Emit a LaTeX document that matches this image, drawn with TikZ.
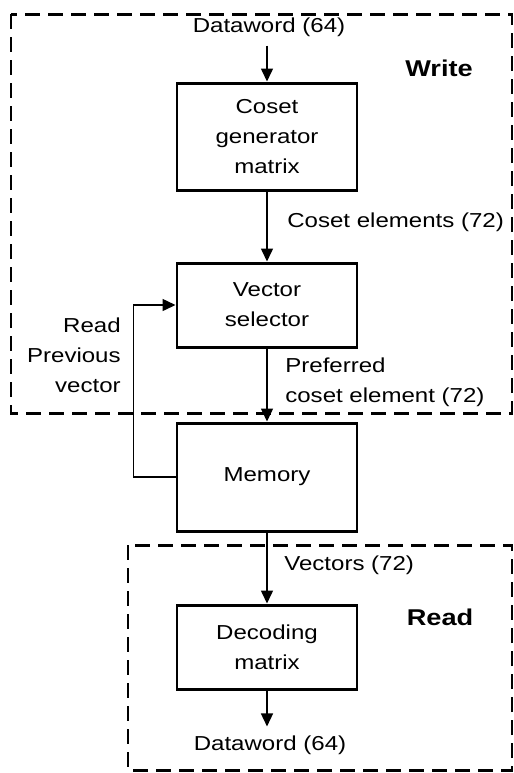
\documentclass[tikz,border=0pt]{standalone}
\usepackage{fontspec}
\setmainfont[FakeStretch=1.19]{Liberation Sans}
\usetikzlibrary{arrows.meta}

\begin{document}
\begin{tikzpicture}[
    font=\fontsize{11.5}{17}\selectfont,
    block/.style={draw, line width=1.7pt, minimum width=3.6cm, align=center},
    lbl/.style={inner sep=0pt, align=left},
    term/.style={inner sep=5pt},
    region/.style={draw, line width=1.7pt, dash pattern=on 0.3cm off 0.16cm},
    flow/.style={draw, line width=0.85pt, -{Triangle[length=0.26cm,width=0.24cm]}},
    title/.style={font=\fontsize{13}{16}\selectfont\bfseries}]
\useasboundingbox (0,0) rectangle (10.28,-15.46);

\path[region] (0.22,-0.28) rectangle (10.24,-8.26);
\path[region] (2.56,-10.90) rectangle (10.24,-15.40);

\node[term] (din) at (5.38,-0.54) {Dataword (64)};
\node[title] (write) at (8.78,-1.36) {Write};
\node[block, minimum height=2.14cm] (cgm) at (5.34,-2.73) {Coset\\generator\\matrix};
\node[lbl, anchor=west] (celem) at (5.74,-4.44) {Coset elements (72)};
\node[block, minimum height=1.68cm] (vs) at (5.34,-6.10) {Vector\\selector};
\node[lbl, align=right, anchor=east] (rprev) at (2.42,-7.10) {Read\\Previous\\vector};
\node[lbl, anchor=west] (pref) at (5.70,-7.64) {Preferred\\coset element (72)};
\node[block, minimum height=2.16cm] (mem) at (5.34,-9.54) {Memory};
\node[lbl, anchor=west] (vecs) at (5.68,-11.30) {Vectors (72)};
\node[title] (read) at (8.80,-12.34) {Read};
\node[block, minimum height=1.68cm] (dec) at (5.34,-12.94) {Decoding\\matrix};
\node[term] (dout) at (5.40,-14.90) {Dataword (64)};

\path[flow] (din.south -| cgm) -- (cgm);
\path[flow] (cgm) -- (vs);
\path[flow] (vs) -- (mem);
\path[flow] (mem) -- (dec);
\path[flow] (dec) -- (dec |- dout.north);
\path[flow] (mem.west) -- ++(-0.84,0) |- (vs.west);
\end{tikzpicture}
\end{document}
